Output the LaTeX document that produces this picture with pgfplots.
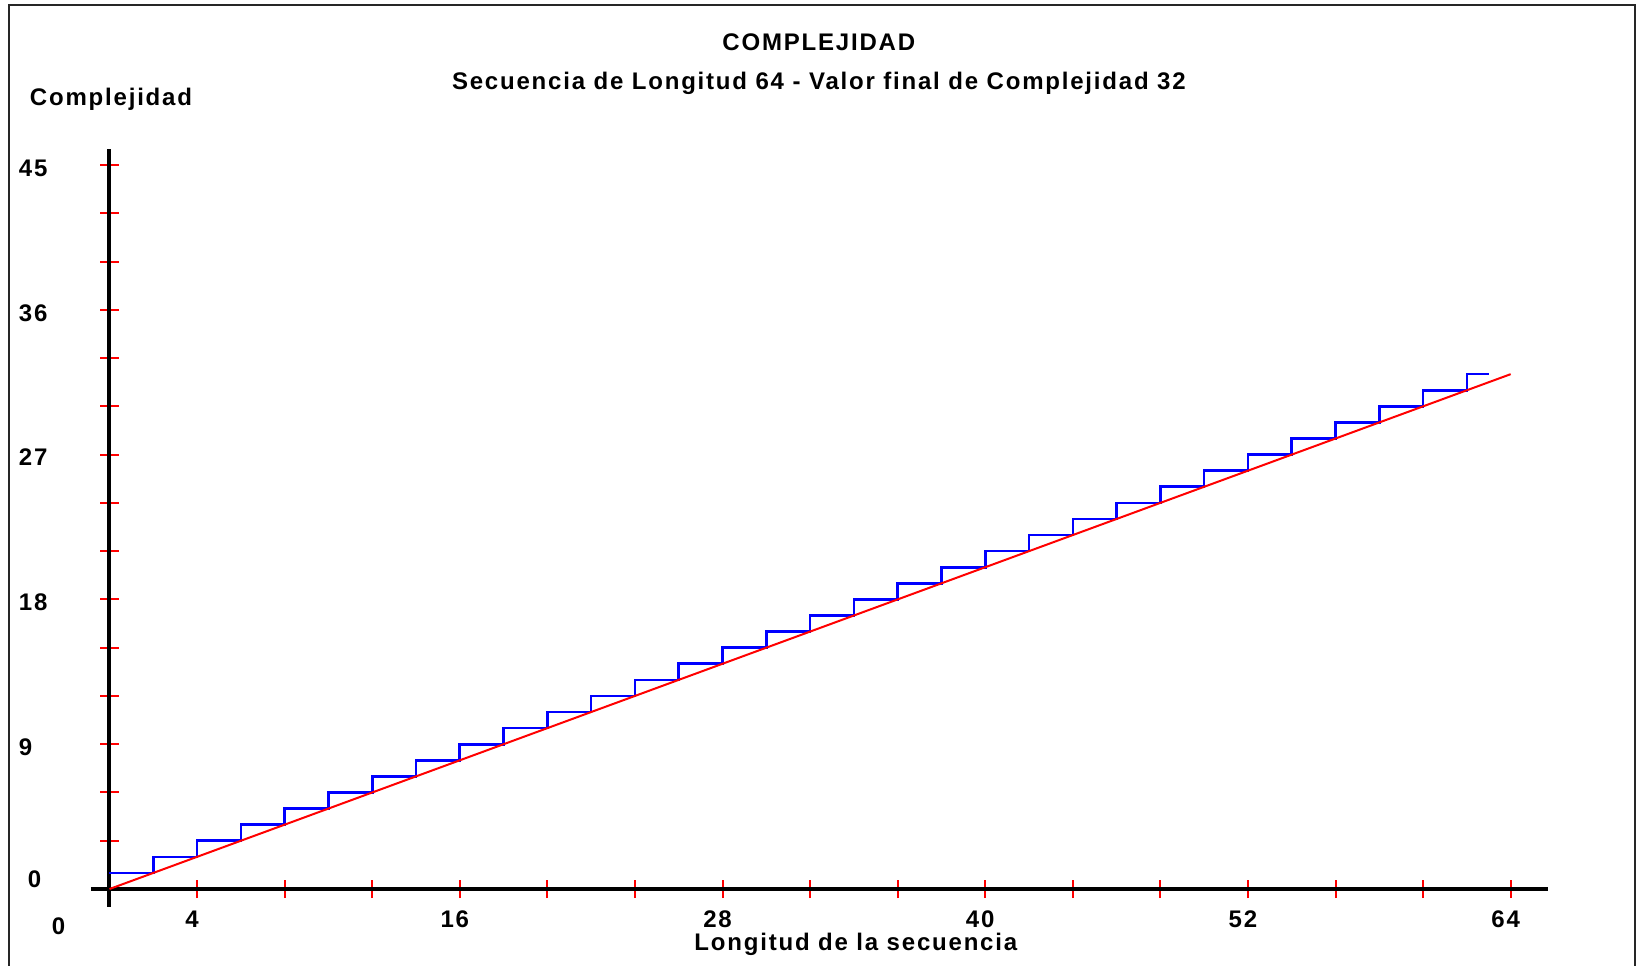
\documentclass[border=0pt]{standalone}
\usepackage{fontspec}
\setmainfont{Liberation Sans}[LetterSpace=7.5]
\usepackage{pgfplots}
\pgfplotsset{compat=1.18}

\newcommand\lbl{\bfseries\fontsize{12}{14}\selectfont}

\begin{document}
\begin{tikzpicture}
\path[use as bounding box] (0,0) rectangle (818.5pt,-482.5pt);
% frame round the whole window
\draw[line width=1pt, black!85] (4.5pt,-490pt) -- (4.5pt,-2.5pt) -- (817.5pt,-2.5pt) -- (817.5pt,-490pt);
\begin{axis}[
    at={(54.75pt,-444.5pt)}, anchor=origin,
    scale only axis,
    width=728.5pt, height=378.9pt,
    xmin=-0.85, xmax=65.7,
    ymin=-1.1, ymax=46,
    axis lines=middle,
    axis line style={-, line width=2pt, black},
    tick align=center,
    major tick length=9pt, minor tick length=9pt,
    every tick/.style={red, line width=1pt},
    xtick={4,16,...,64},
    minor xtick={8,12,20,24,32,36,44,48,56,60},
    ytick={9,18,...,45},
    minor ytick={3,6,12,15,21,24,30,33,39,42},
    extra x ticks={0},
    extra x tick style={major tick length=0pt, xticklabel style={xshift=-23pt, yshift=-7.8pt}},
    extra y ticks={0},
    extra y tick style={major tick length=0pt, yticklabel style={yshift=6.5pt}},
    hide obscured x ticks=false, hide obscured y ticks=false,
    /pgf/number format/assume math mode=true,
    tick label style={font=\lbl, text=black},
    xticklabel style={anchor=north, xshift=-2.5pt, yshift=-2.9pt},
    yticklabel style={anchor=west, xshift=-44.3pt, yshift=-1.5pt},
    title={COMPLEJIDAD\\[5.5pt]Secuencia de Longitud 64 - Valor final de Complejidad 32},
    title style={at={(axis description cs:0.4996,1.0957)}, anchor=center, align=center, font=\lbl},
    xlabel={Longitud de la secuencia},
    xlabel style={at={(axis description cs:0.525,-0.05)}, anchor=center, font=\lbl},
    ylabel={Complejidad},
    ylabel style={at={(axis description cs:0.0138,1.065)}, anchor=center, font=\lbl},
    clip=false,
]

% complejidad de la secuencia (escalones)
\addplot[blue, line width=1.3pt, const plot] coordinates {
    (0,1) (2,2) (4,3) (6,4) (8,5) (10,6) (12,7) (14,8) (16,9) (18,10)
    (20,11) (22,12) (24,13) (26,14) (28,15) (30,16) (32,17) (34,18)
    (36,19) (38,20) (40,21) (42,22) (44,23) (46,24) (48,25) (50,26)
    (52,27) (54,28) (56,29) (58,30) (60,31) (62,32) (63,32)
};

% valor esperado n/2
\addplot[red, line width=1pt] coordinates {(0,0) (64,32)};

\end{axis}
\end{tikzpicture}
\end{document}
